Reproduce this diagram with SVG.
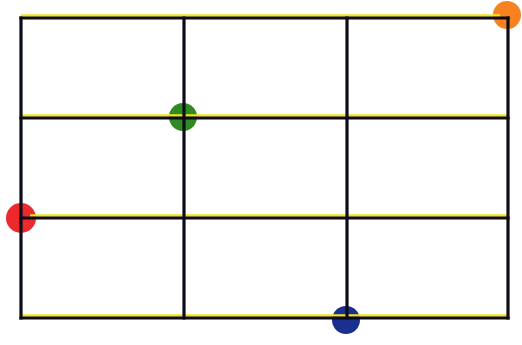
<svg xmlns="http://www.w3.org/2000/svg" width="522" height="345" viewBox="0 0 522 345">
<style>
.y{stroke:#f4e41c;stroke-width:2.4;fill:none}
.k{stroke:#0d0d1a;stroke-width:3.2;fill:none;stroke-linecap:square}
</style>
<rect width="522" height="345" fill="#ffffff"/>
<g id="dots">
<circle id="orange" cx="507" cy="15" r="14" fill="#f7821f"/>
<circle id="green" cx="183" cy="117" r="14" fill="#2f8a22"/>
<circle id="red" cx="21" cy="218" r="15" fill="#ec2a2e"/>
<circle id="blue" cx="346" cy="320" r="14" fill="#1b2f8e"/>
</g>
<g id="halo">
<line class="y" x1="21" y1="15.5" x2="500" y2="15.5"/>
<line class="y" x1="21" y1="115.5" x2="509" y2="115.5"/>
<line class="y" x1="30" y1="215.5" x2="509" y2="215.5"/>
<line class="y" x1="21" y1="315.5" x2="509" y2="315.5"/>
</g>
<g id="grid">
<line class="k" x1="21" y1="18" x2="508" y2="18"/>
<line class="k" x1="21" y1="118" x2="508" y2="118"/>
<line class="k" x1="21" y1="218" x2="508" y2="218"/>
<line class="k" x1="21" y1="318" x2="508" y2="318"/>
<line class="k" x1="21" y1="18" x2="21" y2="318"/>
<line class="k" x1="184" y1="18" x2="184" y2="318"/>
<line class="k" x1="347" y1="18" x2="347" y2="318"/>
<line class="k" x1="508" y1="18" x2="508" y2="318"/>
</g>
</svg>
